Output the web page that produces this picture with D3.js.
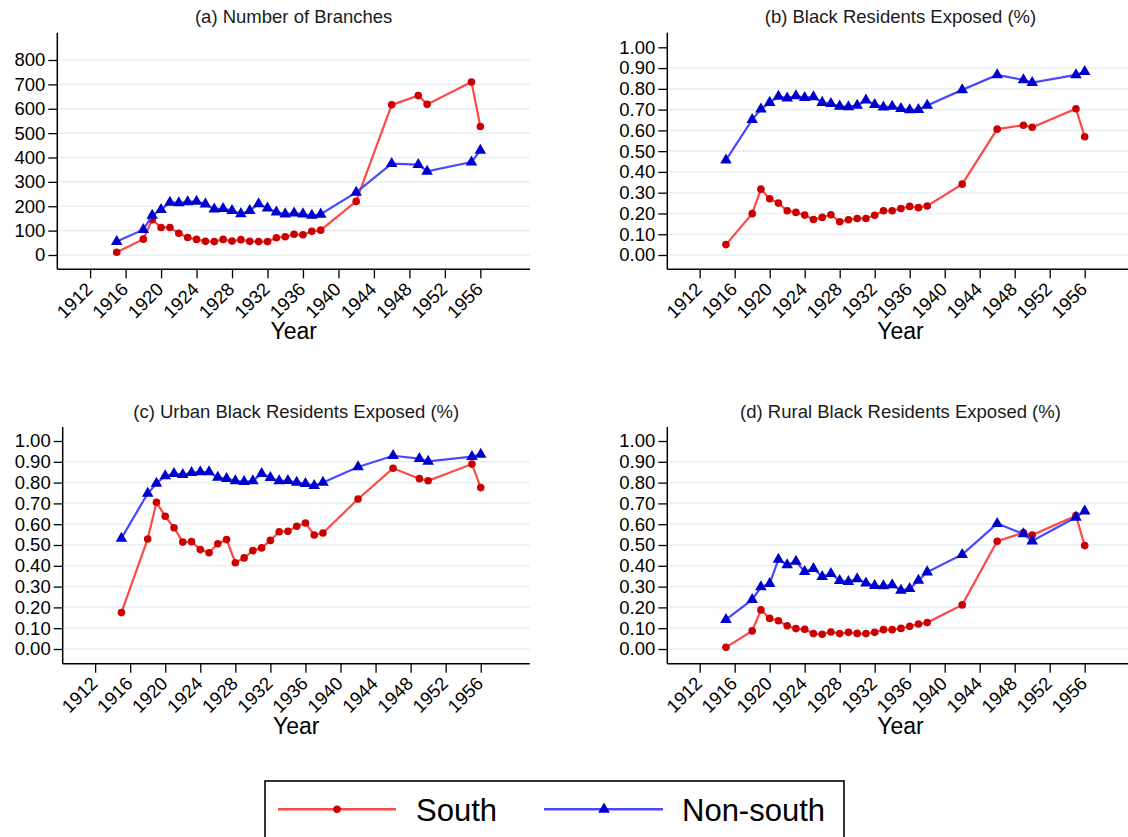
<!DOCTYPE html>
<html>
<head>
<meta charset="utf-8">
<script src="https://cdn.jsdelivr.net/npm/d3@7"></script>
<style>
  html, body { margin: 0; padding: 0; background: #fff; }
  svg { display: block; font-family: "Liberation Sans", Arial, sans-serif; }
</style>
</head>
<body>
<svg id="chart" width="1128" height="837"></svg>
<script>
// ---------------- DATA ----------------
const years = [1915, 1918, 1919, 1920, 1921, 1922, 1923, 1924, 1925, 1926, 1927, 1928, 1929,
  1930, 1931, 1932, 1933, 1934, 1935, 1936, 1937, 1938, 1942, 1946, 1949, 1950, 1955, 1956];

const branchesSouth = [11, 65, 145, 113, 113, 89, 72, 64, 56, 55, 64, 57, 63,
  56, 55, 55, 71, 75, 85, 83, 97, 102, 220, 616, 654, 618, 710, 527];
const branchesNonSouth = [55, 104, 162, 186, 216, 214, 218, 220, 209, 188, 190, 182, 169,
  182, 210, 192, 176, 168, 172, 168, 162, 167, 257, 375, 371, 343, 381, 429];

const blackSouth = [0.050, 0.199, 0.317, 0.271, 0.250, 0.213, 0.205, 0.192, 0.171, 0.181, 0.194, 0.160, 0.170,
  0.176, 0.176, 0.191, 0.213, 0.213, 0.224, 0.234, 0.228, 0.236, 0.341, 0.606, 0.625, 0.615, 0.704, 0.569];
const blackNonSouth = [0.457, 0.652, 0.702, 0.734, 0.764, 0.755, 0.766, 0.758, 0.761, 0.734, 0.729, 0.716, 0.713,
  0.720, 0.745, 0.724, 0.712, 0.715, 0.704, 0.699, 0.700, 0.720, 0.795, 0.867, 0.843, 0.830, 0.867, 0.883];

const urbanSouth = [0.175, 0.529, 0.705, 0.638, 0.583, 0.514, 0.516, 0.478, 0.463, 0.506, 0.526, 0.415, 0.438,
  0.473, 0.486, 0.522, 0.564, 0.566, 0.590, 0.606, 0.548, 0.558, 0.721, 0.869, 0.819, 0.809, 0.889, 0.776];
const urbanNonSouth = [0.532, 0.748, 0.796, 0.832, 0.843, 0.838, 0.848, 0.851, 0.851, 0.825, 0.819, 0.808, 0.804,
  0.808, 0.843, 0.824, 0.808, 0.809, 0.801, 0.795, 0.785, 0.801, 0.875, 0.929, 0.915, 0.902, 0.925, 0.936];

const ruralSouth = [0.008, 0.087, 0.188, 0.147, 0.136, 0.112, 0.098, 0.095, 0.074, 0.071, 0.082, 0.074, 0.080,
  0.075, 0.074, 0.080, 0.093, 0.093, 0.099, 0.109, 0.120, 0.127, 0.212, 0.518, 0.559, 0.548, 0.641, 0.497];
const ruralNonSouth = [0.141, 0.237, 0.298, 0.314, 0.431, 0.404, 0.421, 0.372, 0.386, 0.348, 0.362, 0.329, 0.324,
  0.337, 0.317, 0.304, 0.303, 0.308, 0.282, 0.290, 0.330, 0.370, 0.454, 0.603, 0.553, 0.519, 0.633, 0.663];

const panelTitles = ["(a) Number of Branches", "(b) Black Residents Exposed (%)",
  "(c) Urban Black Residents Exposed (%)", "(d) Rural Black Residents Exposed (%)"];
const seriesNames = ["South", "Non-south"];
const xTickYears = [1912, 1916, 1920, 1924, 1928, 1932, 1936, 1940, 1944, 1948, 1952, 1956];
const branchTicks = [0, 100, 200, 300, 400, 500, 600, 700, 800];
const shareTicks = [0, 0.1, 0.2, 0.3, 0.4, 0.5, 0.6, 0.7, 0.8, 0.9, 1.0];
const xAxisTitle = "Year";

// ---------------- LAYOUT / STYLE ----------------
const COL_RED_LINE = "#ff4848", COL_RED_MK = "#cc0000";
const COL_BLUE_LINE = "#4848ff", COL_BLUE_MK = "#0000cc";
const GRID = "#e8f0f3";
const FONT_TICK = 18.5, FONT_TITLE = 18.5, FONT_AXIS = 23;
const X_DOMAIN = [1908.3, 1961.6];

const panels = [
  { title: panelTitles[0], south: branchesSouth, non: branchesNonSouth, ticks: branchTicks, fmt: d3.format("d"),
    x0: 57.3, x1: 530, yTopPx: 60, yBotPx: 255, vTop: 800, vBot: 0, axTop: 32.7, axBot: 269.3, gridTop: true },
  { title: panelTitles[1], south: blackSouth, non: blackNonSouth, ticks: shareTicks, fmt: d3.format(".2f"),
    x0: 667.3, x1: 1133.7, yTopPx: 47.3, yBotPx: 255, vTop: 1, vBot: 0, axTop: 32.7, axBot: 269.3, gridTop: false },
  { title: panelTitles[2], south: urbanSouth, non: urbanNonSouth, ticks: shareTicks, fmt: d3.format(".2f"),
    x0: 62.7, x1: 529.8, yTopPx: 441, yBotPx: 649, vTop: 1, vBot: 0, axTop: 427, axBot: 663.7, gridTop: false },
  { title: panelTitles[3], south: ruralSouth, non: ruralNonSouth, ticks: shareTicks, fmt: d3.format(".2f"),
    x0: 667.3, x1: 1133.7, yTopPx: 441, yBotPx: 649, vTop: 1, vBot: 0, axTop: 427, axBot: 663.7, gridTop: false }
];

const svg = d3.select("#chart");
const triangle = d3.symbol().type(d3.symbolTriangle).size(58);

panels.forEach(p => {
  const x = d3.scaleLinear().domain(X_DOMAIN).range([p.x0, p.x1]);
  const y = d3.scaleLinear().domain([p.vBot, p.vTop]).range([p.yBotPx, p.yTopPx]);
  const g = svg.append("g");

  // gridlines
  g.append("g").selectAll("line")
    .data(p.ticks.filter((t, i) => p.gridTop || i < p.ticks.length - 1))
    .join("line")
    .attr("x1", p.x0).attr("x2", p.x1)
    .attr("y1", d => y(d)).attr("y2", d => y(d))
    .attr("stroke", GRID).attr("stroke-width", 1.6);

  // y axis
  const yAxis = d3.axisLeft(y).tickValues(p.ticks).tickFormat(p.fmt).tickSize(9).tickPadding(3);
  const gy = g.append("g").attr("transform", `translate(${p.x0},0)`).call(yAxis);
  gy.select(".domain").remove();
  gy.selectAll(".tick line").attr("stroke", "#000").attr("stroke-width", 1.3);
  gy.selectAll(".tick text").attr("font-size", FONT_TICK).attr("fill", "#000")
    .attr("font-family", "Liberation Sans, Arial, sans-serif");
  g.append("line").attr("x1", p.x0).attr("x2", p.x0).attr("y1", p.axTop).attr("y2", p.axBot)
    .attr("stroke", "#000").attr("stroke-width", 1.5);

  // x axis
  const xAxis = d3.axisBottom(x).tickValues(xTickYears).tickFormat(d3.format("d")).tickSize(9).tickPadding(3);
  const gx = g.append("g").attr("transform", `translate(0,${p.axBot})`).call(xAxis);
  gx.select(".domain").remove();
  gx.selectAll(".tick line").attr("stroke", "#000").attr("stroke-width", 1.3);
  gx.selectAll(".tick text")
    .attr("font-size", FONT_TICK).attr("fill", "#000")
    .attr("font-family", "Liberation Sans, Arial, sans-serif")
    .attr("text-anchor", "end")
    .attr("x", 0).attr("y", 0)
    .attr("dy", "0.35em")
    .attr("transform", "translate(-1.5,16.5) rotate(-45)");
  g.append("line").attr("x1", p.x0).attr("x2", p.x1).attr("y1", p.axBot).attr("y2", p.axBot)
    .attr("stroke", "#000").attr("stroke-width", 1.5);

  // axis title
  g.append("text").attr("x", (p.x0 + p.x1) / 2).attr("y", p.axBot + 70)
    .attr("text-anchor", "middle").attr("font-size", FONT_AXIS).text(xAxisTitle);

  // panel title
  g.append("text").attr("x", (p.x0 + p.x1) / 2).attr("y", p.axTop - 9.5)
    .attr("text-anchor", "middle").attr("font-size", FONT_TITLE).attr("fill", "#1a1a1a").text(p.title);

  const line = d3.line().x((d, i) => x(years[i])).y(d => y(d));

  // series: south
  g.append("path").datum(p.south).attr("d", line)
    .attr("fill", "none").attr("stroke", COL_RED_LINE).attr("stroke-width", 2.2);
  g.append("g").selectAll("circle").data(p.south).join("circle")
    .attr("cx", (d, i) => x(years[i])).attr("cy", d => y(d)).attr("r", 3.8).attr("fill", COL_RED_MK);

  // series: non-south
  g.append("path").datum(p.non).attr("d", line)
    .attr("fill", "none").attr("stroke", COL_BLUE_LINE).attr("stroke-width", 2.2);
  g.append("g").selectAll("path").data(p.non).join("path")
    .attr("d", triangle)
    .attr("transform", (d, i) => `translate(${x(years[i])},${y(d)})`)
    .attr("fill", COL_BLUE_MK);
});

// ---------------- LEGEND ----------------
const lg = svg.append("g");
lg.append("rect").attr("x", 265).attr("y", 781).attr("width", 579).attr("height", 80)
  .attr("fill", "#fff").attr("stroke", "#000").attr("stroke-width", 1.6);
const legendItems = [
  { name: seriesNames[0], lx0: 278, lx1: 396, mx: 337, tx: 416, lc: COL_RED_LINE, mc: COL_RED_MK, shape: "circle" },
  { name: seriesNames[1], lx0: 544, lx1: 663, mx: 604, tx: 682, lc: COL_BLUE_LINE, mc: COL_BLUE_MK, shape: "tri" }
];
legendItems.forEach(it => {
  lg.append("line").attr("x1", it.lx0).attr("x2", it.lx1).attr("y1", 809.3).attr("y2", 809.3)
    .attr("stroke", it.lc).attr("stroke-width", 2.6);
  if (it.shape === "circle") {
    lg.append("circle").attr("cx", it.mx).attr("cy", 809.3).attr("r", 3.8).attr("fill", it.mc);
  } else {
    lg.append("path").attr("d", triangle).attr("transform", `translate(${it.mx},809.3)`).attr("fill", it.mc);
  }
  lg.append("text").attr("x", it.tx).attr("y", 820.7).attr("font-size", 31).attr("fill", "#000").text(it.name);
});
</script>
</body>
</html>
